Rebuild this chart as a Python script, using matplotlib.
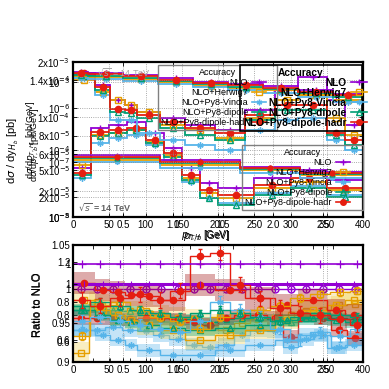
import matplotlib.pyplot as plt
import numpy as np
from matplotlib.lines import Line2D

plt.rcParams['font.family'] = ['Liberation Sans', 'DejaVu Sans']

W = 389.0

NAMES = ["NLO", "NLO+Herwig7", "NLO+Py8-Vincia", "NLO+Py8-dipole", "NLO+Py8-dipole-hadr"]
COLORS = ["#9400d3", "#e69f00", "#56b4e9", "#009e73", "#e51e10"]
BAND_COLORS = [None, "#f0d050", "#56b4e9", "#009e73", "#a01010"]
MARKERS = ["+", "s", (6, 2, 0), "^", "o"]
MFC = [None, "none", None, "none", None]

# ---- top panel, layer A: pT spectrum (log y) ----
A_EDGES = [0, 25, 50, 75, 100, 125, 150, 175, 200, 250, 300, 350, 400]
A_VALS = 1e-5 * np.array([
    [5.33, 20.9, 23.2, 25.7, 17.6, 10.6, 5.33, 3.19, 2.69, 3.79, 4.98, 3.54],
    [5.91, 16.5, 17.6, 19.5, 13.0, 8.32, 3.79, 2.27, 1.91, 2.69, 3.30, 2.52],
    [3.79, 12.5, 14.9, 16.5, 11.7, 7.01, 3.30, 1.91, 1.61, 2.27, 2.88, 2.12],
    [4.20, 15.9, 17.6, 19.5, 12.5, 7.76, 3.54, 1.91, 1.51, 2.12, 2.69, 1.98],
    [4.50, 18.2, 19.5, 20.9, 13.9, 8.91, 4.20, 2.52, 2.12, 2.98, 3.79, 2.69],
])
A_YTICKS = [1e-5, 2e-5, 5e-5, 1e-4, 1e-3, 2e-3]
A_YLABELS = [r"10$^{-5}$", r"2x10$^{-5}$", r"5x10$^{-5}$", r"10$^{-4}$", r"10$^{-3}$", r"2x10$^{-3}$"]
A_XTICKS = [0, 50, 100, 150, 200, 250, 300, 350, 400]

# ---- top panel, layer B: falling spectrum (log y) ----
B_EDGES = [0, 0.22, 0.37, 0.52, 0.64, 0.87, 1.12, 1.42, 1.72, 2.02, 2.25, 2.54, 2.72, 2.9]
B_VALS = 1e-6 * np.array([
    [4.04, 2.64, 1.40, 1.135, 0.845, 0.656, 0.488, 0.394, 0.918, 2.14, 3.71, 1.40, 0.488],
    [3.27, 1.97, 1.40, 1.135, 0.845, 0.488, 0.394, 0.282, 0.656, 1.40, 1.73, 0.656, 0.320],
    [3.55, 1.73, 0.603, 0.603, 0.348, 0.259, 0.209, 0.169, 0.394, 0.603, 0.656, 0.259, 0.169],
    [3.86, 2.14, 0.845, 0.809, 0.656, 0.430, 0.320, 0.259, 0.603, 0.918, 0.918, 0.320, 0.209],
    [4.39, 2.43, 0.959, 0.918, 0.745, 0.553, 0.430, 0.348, 0.745, 1.135, 1.135, 0.348, 0.259],
])
# flat lower band, same binning style
D_EDGES = [0, 0.87, 1.67, 2.27, 2.9]
D_VALS = 1e-6 * np.array([
    [0.137, 0.111, 0.0826, 0.0670],
    [0.111, 0.0899, 0.0728, 0.0590],
    [0.102, 0.0793, 0.0641, 0.0520],
    [0.121, 0.0979, 0.0760, 0.0615],
    [0.126, 0.102, 0.0793, 0.0641],
])
B_YTICKS = [1e-8, 1e-7, 1e-6]
B_YLABELS = [r"10$^{-8}$", r"10$^{-7}$", r"10$^{-6}$"]
B_XTICKS = [0.5, 1, 1.5, 2, 2.5]

# ---- top panel, layer C: rapidity (linear y) ----
C_EDGES = [0, 0.15, 0.5, 0.85, 1.2, 1.55, 1.9, 2.25, 2.6, 2.9]
C_VALS = 1e-4 * np.array([
    [1.486, 1.476, 1.454, 1.422, 1.378, 1.357, 1.335, 1.292, 1.249],
    [1.443, 1.432, 1.411, 1.378, 1.335, 1.314, 1.292, 1.238, 1.184],
    [1.422, 1.411, 1.389, 1.357, 1.324, 1.292, 1.259, 1.216, 1.162],
    [1.454, 1.443, 1.422, 1.389, 1.357, 1.324, 1.303, 1.259, 1.216],
    [1.476, 1.465, 1.443, 1.400, 1.368, 1.346, 1.314, 1.270, 1.238],
])
C_YTICKS = [2e-5, 6e-5, 8e-5, 1e-4, 1.4e-4]
C_YLABELS = [r"2x10$^{-5}$", r"6x10$^{-5}$", r"8x10$^{-5}$", r"1x10$^{-4}$", r"1.4x10$^{-4}$"]

# ---- ratio layers ----
R1_EDGES = [0, 22, 44, 67, 89, 111, 133, 156, 178, 200, 222, 244, 267, 289, 311, 333, 356, 378, 400]
R1_VALS = np.array([
    [1.0] * 18,
    [0.52, 0.90, 0.88, 0.83, 0.83, 0.80, 0.78, 0.77, 0.73, 0.69, 0.74, 0.77, 0.78, 0.80, 0.83, 0.84, 0.88, 0.89],
    [0.69, 0.69, 0.71, 0.69, 0.68, 0.65, 0.62, 0.58, 0.56, 0.58, 0.65, 0.69, 0.68, 0.56, 0.62, 0.65, 0.56, 0.62],
    [0.84, 0.86, 0.84, 0.83, 0.80, 0.78, 0.77, 0.77, 0.75, 0.77, 0.78, 0.78, 0.77, 0.75, 0.78, 0.80, 0.78, 0.77],
    [0.78, 0.78, 0.78, 0.77, 0.78, 0.78, 0.77, 0.75, 0.73, 0.78, 0.80, 0.80, 0.78, 0.64, 0.80, 0.78, 0.69, 0.63],
])
R1_BAND = [0, 0.08, 0.05, 0.04, 0.05]

R2_VALS = np.array([
    [1.0] * 13,
    [0.979, 0.967, 0.960, 0.954, 0.947, 0.941, 0.928, 0.935, 0.941, 0.954, 0.967, 0.973, 0.979],
    [0.941, 0.935, 0.928, 0.922, 0.915, 0.909, 0.909, 0.915, 0.922, 0.928, 0.935, 0.918, 0.922],
    [0.967, 0.960, 0.954, 0.951, 0.947, 0.944, 0.941, 0.944, 0.947, 0.954, 0.956, 0.954, 0.951],
    [1.001, 0.992, 0.990, 0.986, 0.985, 0.979, 0.999, 0.992, 0.982, 0.973, 0.979, 0.967, 0.960],
])
R2_BAND = [0, 0.012, 0.008, 0.008, 0.014]

R3_EDGES = [0, 17, 37, 57, 77, 97, 117, 137, 157, 177, 197, 217, 237, 257, 277, 290]
R3_VALS = np.array([
    [1.0] * 15,
    [0.62, 0.78, 0.80, 0.76, 0.72, 0.70, 0.66, 0.72, 0.74, 0.76, 0.78, 0.82, 0.84, 0.85, 0.86],
    [0.70, 0.72, 0.70, 0.68, 0.66, 0.64, 0.70, 0.80, 0.76, 0.72, 0.66, 0.60, 0.64, 0.62, 0.66],
    [0.78, 0.80, 0.78, 0.76, 0.74, 0.72, 0.74, 0.76, 0.74, 0.72, 0.70, 0.72, 0.74, 0.73, 0.72],
    [0.81, 0.78, 0.82, 0.84, 0.81, 0.86, 1.04, 1.06, 0.89, 0.82, 0.77, 0.74, 0.73, 0.71, 0.68],
])
R3_ERR = [0, 0.02, 0.03, 0.02, 0.04]


def rect(left, top, right, bottom):
    return [left / W, 1 - bottom / W, (right - left) / W, (bottom - top) / W]


TOP = rect(73, 62, 363, 217)
BOT = rect(73, 245, 363, 362)

fig = plt.figure(figsize=(3.89, 3.89), dpi=100)


def layer(r, main=False):
    ax = fig.add_axes(r)
    ax.set_facecolor("none")
    for s in ax.spines.values():
        s.set_visible(main)
        s.set_linewidth(1.6)
    ax.tick_params(direction="in", which="both", labelsize=7, length=3, pad=2,
                   top=main, right=main, width=0.6)
    return ax


def grid(ax, axis="both"):
    ax.grid(True, axis=axis, ls=":", color="#909090", lw=0.6)


def hist(ax, edges, vals, i, ms=4.5, lw=1.3, yerr=None):
    edges = np.asarray(edges, dtype=float)
    c = COLORS[i]
    ax.stairs(vals, edges, color=c, lw=lw, baseline=None)
    centers = 0.5 * (edges[1:] + edges[:-1])
    ax.errorbar(centers, vals, yerr=yerr, fmt="none", ecolor=c, elinewidth=0.8, capsize=1.5)
    ax.plot(centers, vals, ls="none", marker=MARKERS[i], color=c, ms=ms,
            mfc=MFC[i] if MFC[i] else c, mew=1.0)


# ------------- top panel -------------
axA = layer(TOP)
axA.set_yscale("log")
axA.set_xlim(0, 400)
axA.set_ylim(1e-5, 2e-3)
grid(axA)
for i in range(5):
    hist(axA, A_EDGES, A_VALS[i], i)
axA.set_xticks(A_XTICKS)
axA.set_yticks(A_YTICKS, A_YLABELS)
axA.minorticks_off()

axB = layer(TOP)
axB.set_yscale("log")
axB.set_xlim(0, 2.9)
axB.set_ylim(1e-8, 6.98e-6)
grid(axB)
for i in range(5):
    hist(axB, B_EDGES, B_VALS[i], i)
    hist(axB, D_EDGES, D_VALS[i], i, ms=3.5)
axB.set_xticks(B_XTICKS)
axB.set_yticks(B_YTICKS, B_YLABELS)
axB.minorticks_off()

axC = layer(TOP, main=True)
axC.set_xlim(0, 2.9)
axC.set_ylim(-0.081e-4, 1.595e-4)
grid(axC, "y")
for i in range(5):
    hist(axC, C_EDGES, C_VALS[i], i)
axC.set_yticks(C_YTICKS, C_YLABELS)
axC.set_xticks(B_XTICKS, [])
axC.tick_params(labelbottom=False)

fig.text(78 / W, 1 - 207 / W, r"$\sqrt{s}$ = 14 TeV", fontsize=6.5, color="#606060",
         fontweight="bold", va="center")
fig.text(97 / W, 1 - 72 / W, r"$\sqrt{s}$ = 14 TeV", fontsize=6.5, color="#a8a8a8", va="center")

# axis labels (overlapping plots)
fig.text(13 / W, 1 - 150 / W, r"d$\sigma$ / dy$_{H_b}$ [pb]", rotation=90, fontsize=8,
         ha="center", va="center")
fig.text(31 / W, 1 - 140 / W, r"d$\sigma$/d$p_{T,H_b}$ [pb/GeV]", rotation=90, fontsize=6.5,
         ha="center", va="center")
fig.text(35 / W, 1 - 145 / W, r"d$\sigma$/d$p_{T,b}$ [pb/GeV]", rotation=90, fontsize=6.5,
         ha="center", va="center")
fig.text(205 / W, 1 - 236 / W, r"$p_{T,H}$ [GeV]", fontsize=7, ha="center", va="center")
fig.text(207 / W, 1 - 237 / W, r"$p_{T,b}$ [GeV]", fontsize=7, ha="center", va="center")

# legends
handles = [Line2D([], [], color=COLORS[i], marker=MARKERS[i], ms=4,
                  mfc=MFC[i] if MFC[i] else COLORS[i], lw=1.2) for i in range(5)]
common = dict(loc="upper left", bbox_transform=fig.transFigure, markerfirst=False,
              fancybox=False, facecolor="none", framealpha=0, borderaxespad=0,
              handlelength=1.6, handletextpad=0.4, borderpad=0.3, mode="expand")
leg1 = fig.legend(handles, NAMES, bbox_to_anchor=(158 / W, 1 - 128 / W, 119 / W, 63 / W),
                  title="Accuracy", fontsize=6.5, title_fontsize=6.5, labelspacing=0.12,
                  edgecolor="#808080", **common)
leg1.get_frame().set_alpha(None)
leg1.get_frame().set_facecolor("none")
leg2 = fig.legend(handles, NAMES, bbox_to_anchor=(240 / W, 1 - 131 / W, 122 / W, 66 / W),
                  title="Accuracy", prop={"weight": "bold", "size": 7.3},
                  title_fontproperties={"weight": "bold", "size": 7.3}, labelspacing=0.0,
                  edgecolor="black", **common)
leg2.get_frame().set_alpha(None)
leg2.get_frame().set_facecolor("none")
leg2.get_frame().set_linewidth(1.2)
leg3 = fig.legend(handles, NAMES, bbox_to_anchor=(242 / W, 1 - 210 / W, 121 / W, 65 / W),
                  title="Accuracy", fontsize=6.5, title_fontsize=6.5, labelspacing=0.12,
                  edgecolor="#808080", **common)
leg3.get_frame().set_alpha(None)
leg3.get_frame().set_facecolor("none")

# ------------- ratio panel -------------
def ratio(ax, edges, vals, band, err=None, nlo_style="circle"):
    edges = np.asarray(edges, dtype=float)
    centers = 0.5 * (edges[1:] + edges[:-1])
    for i in range(1, 5):
        v = vals[i]
        if band[i]:
            lo = np.r_[v - band[i], v[-1] - band[i]]
            hi = np.r_[v + band[i], v[-1] + band[i]]
            ax.fill_between(edges, lo, hi, step="post", color=BAND_COLORS[i], alpha=0.35, lw=0)
    for i in range(1, 5):
        hist(ax, edges, vals[i], i, ms=4.5, lw=1.0,
             yerr=err[i] if err is not None else None)
    c = COLORS[0]
    if nlo_style == "circle":
        ax.stairs(vals[0], edges, color=c, lw=1.0, baseline=None)
        ax.plot(centers, vals[0], ls="none", marker="o", ms=5, mfc="white", mec=c, mew=1)
        ax.plot(centers, vals[0], ls="none", marker="+", ms=5, color=c, mew=1)
    elif nlo_style == "thick":
        ax.stairs(vals[0], edges, color=c, lw=2.2, baseline=None)
        ax.plot(centers, vals[0], ls="none", marker="|", ms=4, color=c, mew=0.8)
    else:
        ax.stairs(vals[0], edges, color=c, lw=1.2, baseline=None)
        ax.plot(centers, vals[0], ls="none", marker="+", ms=6, color=c, mew=0.9)


ax1 = layer(BOT)
ax1.set_xlim(0, 400)
ax1.set_ylim(0.45, 1.33)
grid(ax1, "x")
ratio(ax1, R1_EDGES, R1_VALS, R1_BAND, nlo_style="circle")
ax1.set_xticks(A_XTICKS)
ax1.set_yticks([0.6, 0.8, 1.0, 1.2], ["0.6", "0.8", "1", "1.2"])

ax2 = layer(BOT)
ax2.set_xlim(0, 2.9)
ax2.set_ylim(0.9, 1.05)
grid(ax2, "x")
ratio(ax2, B_EDGES, R2_VALS, R2_BAND, nlo_style="thick")
ax2.set_xticks(B_XTICKS)
ax2.set_yticks([0.9, 0.95, 1.0, 1.05], ["0.9", "0.95", "1", "1.05"])

ax3 = layer(BOT, main=True)
ax3.set_xlim(0, 290)
ax3.set_ylim(0.484, 1.1)
ratio(ax3, R3_EDGES, R3_VALS, [0, 0, 0, 0, 0], err=R3_ERR, nlo_style="plus")
ax3.set_xticks([20, 37, 50, 57, 77, 97, 117, 160, 240, 250, 260], [])
ax3.tick_params(labelbottom=False)
ax3.set_yticks([0.6, 0.8, 1.0], ["0.6", "0.8", "1"])

for dx in (0, 0.6):
    fig.text((37 + dx) / W, 1 - 305 / W, "Ratio to NLO", rotation=90, fontsize=8,
             ha="center", va="center")

fig.savefig("out.png", dpi=100)
